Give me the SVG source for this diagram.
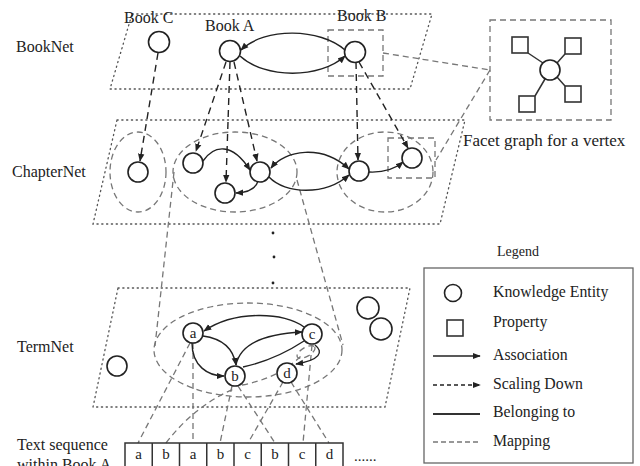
<svg xmlns="http://www.w3.org/2000/svg" width="640" height="466" viewBox="0 0 640 466">
<defs>
<marker id="arr" viewBox="0 0 10 10" refX="9" refY="5" markerWidth="8" markerHeight="8" markerUnits="userSpaceOnUse" orient="auto-start-reverse"><path d="M0,1 L10,5 L0,9 z" fill="#222"/></marker>
<style>
text{font-family:"Liberation Serif","Times New Roman",serif;fill:#222}
.lbl{font-size:16px}
.leg{font-size:15.8px}
.plane{fill:none;stroke:#555;stroke-width:1.3;stroke-dasharray:1.2,3.6;stroke-linecap:round}
.node{fill:#fff;stroke:#222;stroke-width:1.6}
.prop{fill:#fff;stroke:#333;stroke-width:1.6}
.assoc{fill:none;stroke:#222;stroke-width:1.4}
.scale{fill:none;stroke:#222;stroke-width:1.4;stroke-dasharray:7,5}
.belong{fill:none;stroke:#333;stroke-width:1.5}
.map{fill:none;stroke:#777;stroke-width:1.3;stroke-dasharray:6,4}
.nl{font-size:15px;text-anchor:middle}
.cell{font-size:15px;text-anchor:middle}
</style>
</defs>
<rect width="640" height="466" fill="#fff"/>

<g id="planes">
<polygon class="plane" points="132,14 432,14 410,89 110,89"/>
<polygon class="plane" points="117,120 465,120 440,224 93,224"/>
<polygon class="plane" points="118,288 410,288 385,407 93,407"/>
<circle cx="273" cy="233" r="1.4" fill="#222"/>
<circle cx="274" cy="257" r="1.4" fill="#222"/>
<circle cx="273" cy="283" r="1.4" fill="#222"/>
</g>

<g id="layer-labels">
<text class="lbl" x="16" y="52">BookNet</text>
<text class="lbl" x="12" y="177">ChapterNet</text>
<text class="lbl" x="17" y="352">TermNet</text>
<text class="lbl" x="17" y="450">Text sequence</text>
<text class="lbl" x="17" y="470">within Book A</text>
</g>

<g id="groupings">
<rect class="map" x="328" y="30" width="55" height="46"/>
<rect class="map" x="490" y="20" width="121" height="100"/>
<ellipse class="map" cx="138" cy="172" rx="28" ry="40"/>
<ellipse class="map" cx="235" cy="172" rx="62" ry="40"/>
<ellipse class="map" cx="385" cy="172" rx="48" ry="40"/>
<rect class="map" x="388" y="138" width="47" height="40"/>
<ellipse class="map" cx="248" cy="350" rx="94" ry="47"/>
<ellipse class="map" cx="306" cy="352" rx="10" ry="4.5" transform="rotate(-30 306 352)"/>
</g>

<g id="connectors">
<path class="map" d="M383,53 L490,70"/>
<path class="map" d="M490,70 L436,160"/>
<path class="map" d="M174,172 L155,346"/>
<path class="map" d="M297,180 L343,345"/>
<path class="map" d="M190,343 L138,443"/>
<path class="map" d="M166,443 Q195,405 236,388"/>
<path class="map" d="M242,385 Q280,378 303,354"/>
<path class="map" d="M193,343 L193,443"/>
<path class="map" d="M232,386 L220,443"/>
<path class="map" d="M283,382 L248,443"/>
<path class="map" d="M238,386 L275,443"/>
<path class="map" d="M312,345 L303,443"/>
<path class="map" d="M291,382 L329,443"/>
<path class="scale" d="M158,53 L140,161" marker-end="url(#arr)"/>
<path class="scale" d="M226,62 L196,151" marker-end="url(#arr)"/>
<path class="scale" d="M230,62 L226,182" marker-end="url(#arr)"/>
<path class="scale" d="M234,62 L257,161" marker-end="url(#arr)"/>
<path class="scale" d="M356,62 L358,160" marker-end="url(#arr)"/>
<path class="scale" d="M359,62 L408,148" marker-end="url(#arr)"/>
<path class="assoc" d="M345,50 C320,28 265,27 241,50" marker-end="url(#arr)"/>
<path class="assoc" d="M240,56 C265,79 320,79 345,56" marker-end="url(#arr)"/>
<path class="assoc" d="M203,161 C214,145 232,142 250,170" marker-end="url(#arr)"/>
<path class="assoc" d="M258,181 Q255,192 236,193" marker-end="url(#arr)"/>
<path class="assoc" d="M271,168 C285,150 322,144 349,169" marker-start="url(#arr)" marker-end="url(#arr)"/>
<path class="assoc" d="M269,177 C285,194 325,196 349,175" marker-end="url(#arr)"/>
<path class="assoc" d="M369,172 Q390,173 403,162" marker-end="url(#arr)"/>
<path class="assoc" d="M304,327 C285,312 235,310 204,331" marker-end="url(#arr)"/>
<path class="assoc" d="M203,336 Q232,340 236,365" marker-end="url(#arr)"/>
<path class="assoc" d="M236,365 C240,345 262,334 302,332" marker-end="url(#arr)"/>
<path class="assoc" d="M304,341 Q275,360 243,367"/>
<path class="assoc" d="M192,343 C192,366 208,376 224,376" marker-end="url(#arr)"/>
<path class="assoc" d="M315,345 C324,352 320,360 296,364" marker-end="url(#arr)"/>
<path class="belong" d="M543,63 L528,53 M557,63 L565,54 M545,79 L535,96 M557,77 L565,86"/>
</g>

<g id="book-c"><circle class="node" cx="159" cy="42" r="10.5"/><text class="lbl" x="124" y="23">Book C</text></g>
<g id="book-a"><circle class="node" cx="230" cy="51" r="10.5"/><text class="lbl" x="205" y="31">Book A</text></g>
<g id="book-b"><circle class="node" cx="355" cy="52" r="10.5"/><text class="lbl" x="337" y="21">Book B</text></g>

<g id="facet">
<circle class="node" cx="550" cy="70" r="10"/>
<rect class="prop" x="512" y="37" width="16" height="16"/>
<rect class="prop" x="565" y="38" width="16" height="16"/>
<rect class="prop" x="519" y="96" width="16" height="16"/>
<rect class="prop" x="565" y="86" width="16" height="16"/>
<text x="463" y="146" style="font-size:17px">Facet graph for a vertex</text>
</g>

<g id="chapter-nodes">
<circle class="node" cx="138" cy="172" r="10"/>
<circle class="node" cx="193" cy="163" r="10"/>
<circle class="node" cx="260" cy="172" r="10"/>
<circle class="node" cx="225" cy="193" r="10"/>
<circle class="node" cx="359" cy="171" r="10"/>
<circle class="node" cx="412" cy="158" r="10"/>
</g>

<g id="term-nodes">
<circle class="node" cx="117" cy="366" r="10"/>
<circle class="node" cx="368" cy="308" r="11"/>
<circle class="node" cx="381" cy="329" r="11"/>
<g id="term-a"><circle class="node" cx="193" cy="333" r="10"/><text class="nl" x="193" y="338">a</text></g>
<g id="term-b"><circle class="node" cx="235" cy="376" r="10"/><text class="nl" x="235" y="381">b</text></g>
<g id="term-c"><circle class="node" cx="312" cy="334" r="10"/><text class="nl" x="312" y="339">c</text></g>
<g id="term-d"><circle class="node" cx="287" cy="373" r="10"/><text class="nl" x="287" y="378">d</text></g>
</g>

<g id="text-sequence">
<rect x="125" y="443" width="218" height="30" fill="none" stroke="#333" stroke-width="1.5"/>
<path d="M152.25,443V473M179.5,443V473M206.75,443V473M234,443V473M261.25,443V473M288.5,443V473M315.75,443V473" stroke="#333" stroke-width="1.5"/>
<text class="cell" x="138.6" y="459">a</text>
<text class="cell" x="165.9" y="459">b</text>
<text class="cell" x="193.1" y="459">a</text>
<text class="cell" x="220.4" y="459">b</text>
<text class="cell" x="247.6" y="459">c</text>
<text class="cell" x="274.9" y="459">b</text>
<text class="cell" x="302.1" y="459">c</text>
<text class="cell" x="329.4" y="459">d</text>
<text x="354" y="461" style="font-size:15px">......</text>
</g>

<g id="legend">
<text x="497" y="256" style="font-size:14px">Legend</text>
<rect x="424" y="268" width="209" height="195" fill="none" stroke="#666" stroke-width="1.3"/>
<circle class="node" cx="453" cy="293" r="8.5"/>
<text class="leg" x="493" y="297">Knowledge Entity</text>
<rect class="prop" x="447" y="320" width="16" height="16"/>
<text class="leg" x="493" y="327">Property</text>
<path class="assoc" d="M433,356 L480,356" marker-end="url(#arr)"/>
<text class="leg" x="493" y="360">Association</text>
<path class="scale" d="M433,385 L480,385" style="stroke-dasharray:4,3" marker-end="url(#arr)"/>
<text class="leg" x="493" y="389">Scaling Down</text>
<path d="M433,414 L480,414" stroke="#333" stroke-width="2.2"/>
<text class="leg" x="493" y="417">Belonging to</text>
<path class="map" d="M433,442 L480,442" style="stroke-dasharray:5,3"/>
<text class="leg" x="493" y="446">Mapping</text>
</g>
</svg>
